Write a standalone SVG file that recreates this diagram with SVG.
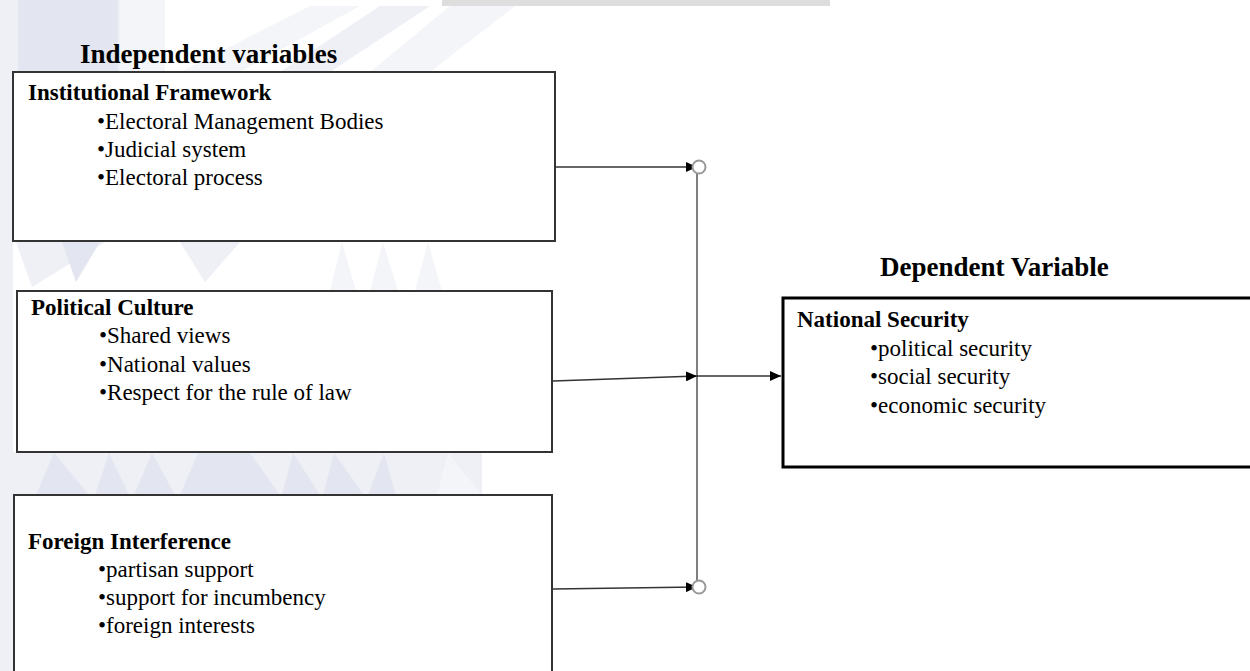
<svg xmlns="http://www.w3.org/2000/svg" width="1250" height="671" viewBox="0 0 1250 671">
<style>
.wm1{fill:#eef0f6}
.wm2{fill:#e3e6f0}
.wm3{fill:#f4f5f9}
.box{fill:#fff;stroke:#333;stroke-width:2}
.dep{fill:#fff;stroke:#000;stroke-width:3}
.t{font-family:"Liberation Serif","Times New Roman",serif;fill:#000}
.h{font-weight:bold;font-size:23px}
.b{font-size:23px}
.title{font-weight:bold;font-size:27px}
.ln{stroke:#555;stroke-width:1.5;fill:none}
.arr{stroke:#333;stroke-width:1.5;fill:none;marker-end:url(#ah)}
.jn{fill:#fff;stroke:#999;stroke-width:2}
</style>
<defs>
<marker id="ah" viewBox="0 0 11 10" refX="11" refY="5" markerWidth="11" markerHeight="10" markerUnits="userSpaceOnUse" orient="auto"><path d="M0,0 L11,5 L0,10 z" fill="#000"/></marker>
</defs>
<rect width="1250" height="671" fill="#fff"/>
<g id="watermark">
<rect x="0" y="0" width="13" height="671" class="wm1"/>
<rect x="0" y="0" width="160" height="72" class="wm1"/>
<rect x="18" y="0" width="100" height="72" class="wm2"/>
<rect x="120" y="0" width="45" height="72" class="wm3"/>
<polygon points="310,6 360,6 240,72 180,72" class="wm3"/>
<polygon points="380,6 430,6 330,72 280,72" class="wm1"/>
<polygon points="450,6 515,6 430,72 370,72" class="wm3"/>
<rect x="442" y="0" width="388" height="6" fill="#dedede"/>
<polygon points="16,242 105,242 32,287" class="wm1"/>
<polygon points="62,242 100,242 76,282" class="wm2"/>
<polygon points="180,242 240,242 205,282" class="wm1"/>
<polygon points="330,291 342,242 356,291" class="wm3"/>
<polygon points="370,291 383,242 398,291" class="wm3"/>
<polygon points="415,291 428,242 442,291" class="wm3"/>
<rect x="4" y="452" width="478" height="43" class="wm1"/>
<polygon points="36,495 54,453 89,495" class="wm2"/>
<polygon points="95,495 109,453 129,495" class="wm2"/>
<polygon points="134,495 152,453 175,495" class="wm2"/>
<polygon points="180,495 198,453 250,453 280,495" class="wm2"/>
<polygon points="282,495 293,453 320,495" class="wm2"/>
<polygon points="323,495 334,453 364,495" class="wm2"/>
<polygon points="368,495 384,453 396,495" class="wm2"/>
<polygon points="437,495 448,453 482,495" class="wm3"/>
</g>
<g id="title-independent"><text x="80" y="63" class="t title">Independent variables</text></g>
<g id="title-dependent"><text x="880" y="276" class="t title">Dependent Variable</text></g>
<g id="node-institutional">
<rect x="13" y="72" width="542" height="169" class="box"/>
<text x="28" y="100" class="t h">Institutional Framework</text>
<text x="97" y="129" class="t b">•Electoral Management Bodies</text>
<text x="97" y="157" class="t b">•Judicial system</text>
<text x="97" y="185" class="t b">•Electoral process</text>
</g>
<g id="node-political">
<rect x="17" y="291" width="535" height="161" class="box"/>
<text x="31" y="315" class="t h">Political Culture</text>
<text x="99" y="343" class="t b">•Shared views</text>
<text x="99" y="372" class="t b">•National values</text>
<text x="99" y="400" class="t b">•Respect for the rule of law</text>
</g>
<g id="node-foreign">
<rect x="14" y="495" width="538" height="190" class="box"/>
<text x="28" y="549" class="t h">Foreign Interference</text>
<text x="98" y="577" class="t b">•partisan support</text>
<text x="98" y="605" class="t b">•support for incumbency</text>
<text x="98" y="633" class="t b">•foreign interests</text>
</g>
<g id="node-national">
<rect x="783" y="298" width="500" height="169" class="dep"/>
<text x="797" y="327" class="t h">National Security</text>
<text x="870" y="356" class="t b">•political security</text>
<text x="870" y="384" class="t b">•social security</text>
<text x="870" y="413" class="t b">•economic security</text>
</g>
<g id="connectors">
<line x1="697" y1="173" x2="697" y2="581" class="ln"/>
<line x1="556" y1="167" x2="697" y2="167" class="arr"/>
<line x1="553" y1="381" x2="697" y2="376" class="arr"/>
<line x1="697" y1="376" x2="781" y2="376" class="arr"/>
<line x1="553" y1="589" x2="697" y2="587" class="arr"/>
<circle cx="699" cy="167" r="6.5" class="jn"/>
<circle cx="699" cy="587" r="6.5" class="jn"/>
</g>
</svg>
